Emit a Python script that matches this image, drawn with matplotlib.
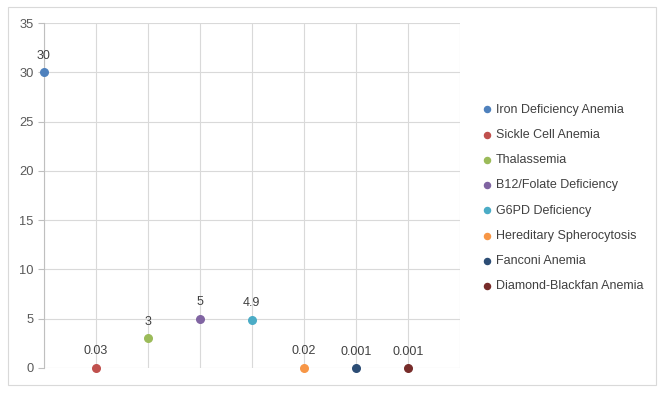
import matplotlib
matplotlib.use('Agg')
import matplotlib.pyplot as plt
from matplotlib.patches import Rectangle

diseases = ['Iron Deficiency Anemia', 'Sickle Cell Anemia', 'Thalassemia',
            'B12/Folate Deficiency', 'G6PD Deficiency', 'Hereditary Spherocytosis',
            'Fanconi Anemia', 'Diamond-Blackfan Anemia']
values = [30, 0.03, 3, 5, 4.9, 0.02, 0.001, 0.001]
value_labels = ['30', '0.03', '3', '5', '4.9', '0.02', '0.001', '0.001']
colors = ['#4F81BD', '#C0504D', '#9BBB59', '#8064A2', '#4BACC6', '#F79646',
          '#2C4D75', '#772C2A']

plt.rcParams['font.family'] = ['Liberation Sans', 'DejaVu Sans']

fig = plt.figure(figsize=(6.63, 3.93), dpi=100)
ax = fig.add_axes([43.5/663, 25/393, 416.5/663, 345/393])

for i, (name, v, lab, c) in enumerate(zip(diseases, values, value_labels, colors)):
    ax.scatter(i + 1, v, s=30, color=c, label=name, zorder=3, clip_on=False)
    ax.annotate(lab, (i + 1, v), xytext=(0, 7.5), textcoords='offset points',
                ha='center', va='bottom', fontsize=9, color='#404040')

ax.set_xlim(1, 9)
ax.set_ylim(0, 35)
ax.set_yticks(range(0, 36, 5))
ax.set_xticks(range(1, 10))
ax.tick_params(axis='x', length=0, labelbottom=False)
ax.tick_params(axis='y', length=4, color='#BFBFBF', labelsize=9.3, labelcolor='#595959', pad=3)
ax.grid(True, color='#D9D9D9', linewidth=0.8)
ax.set_axisbelow(True)
for s in ['top', 'right', 'bottom']:
    ax.spines[s].set_visible(False)
ax.spines['left'].set_color('#BFBFBF')
ax.spines['left'].set_zorder(2)

leg = fig.legend(loc='center left', bbox_to_anchor=(477/663, 195/393), frameon=False,
                 fontsize=9, labelcolor='#404040', handlelength=0.8, handletextpad=0.3,
                 labelspacing=1.06, markerscale=0.8, borderaxespad=0)

fig.add_artist(Rectangle((8/663, 8/393), 648/663, 378/393, transform=fig.transFigure,
                         fill=False, edgecolor='#D9D9D9', linewidth=0.8))

fig.savefig('out.png', dpi=100)
